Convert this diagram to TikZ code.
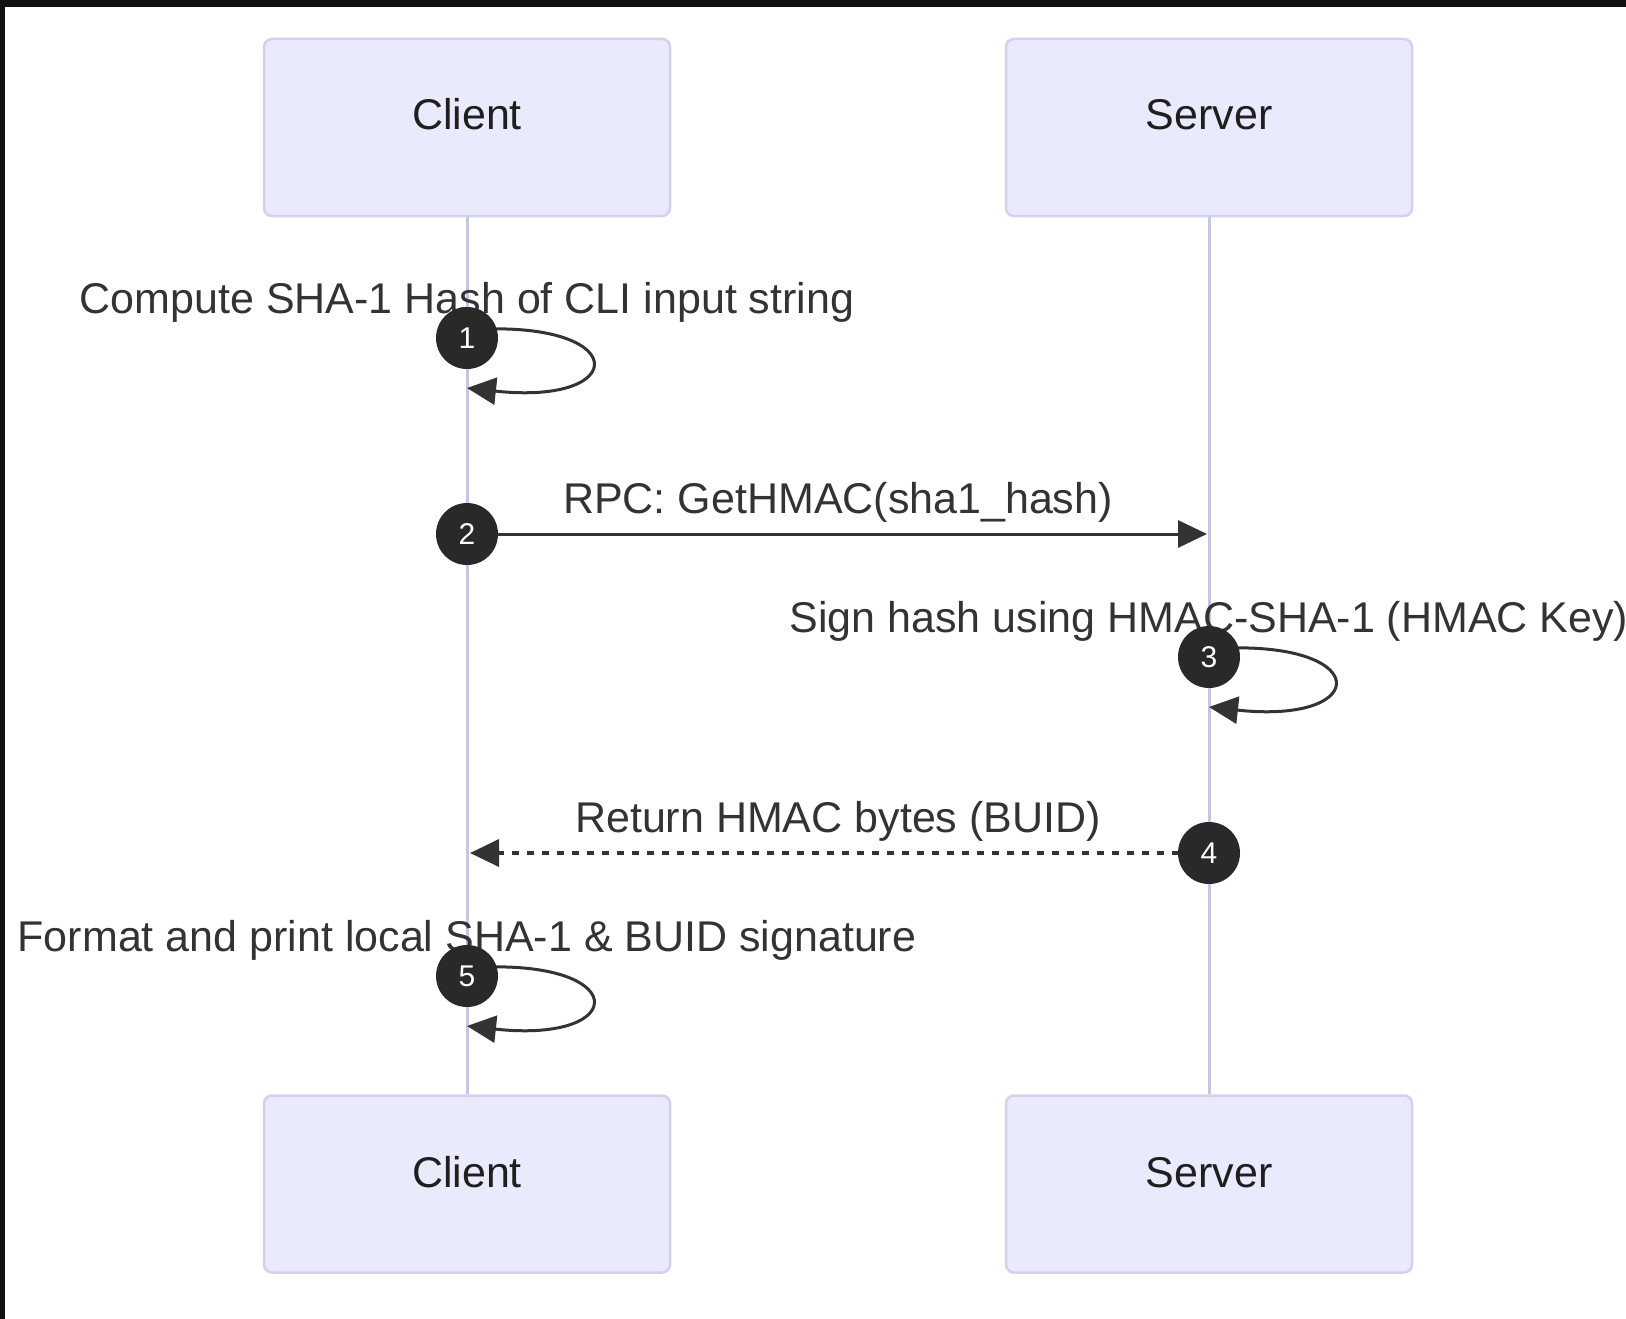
\documentclass[tikz,border=0pt]{standalone}
\usepackage{fontspec}
\setmainfont{Liberation Sans}
\usetikzlibrary{arrows.meta}

\definecolor{ink}{HTML}{333333}
\definecolor{actorfill}{HTML}{EAEAFD}
\definecolor{actorline}{HTML}{D3D1EF}
\definecolor{lifeline}{HTML}{C9C3E6}
\definecolor{frame}{HTML}{111111}

\begin{document}
\begin{tikzpicture}[x=1pt,y=-1pt,
  actor/.style={draw=actorline, line width=2.5pt, fill=actorfill,
    rounded corners=8pt, minimum width=406pt, minimum height=177pt, inner sep=0pt},
  actorlabel/.style={font=\fontsize{43pt}{50pt}\selectfont, text=black!88, anchor=base},
  msglabel/.style={font=\fontsize{43pt}{50pt}\selectfont, text=ink, anchor=base},
  life/.style={draw=lifeline, line width=3pt},
  msg/.style={draw=ink, line width=3pt, -{Triangle[length=29pt,width=27pt]}},
  reply/.style={msg, line width=3.6pt, dash pattern=on 7.5pt off 7.5pt},
  seqnum/.style={circle, fill=ink!80!black, minimum size=62pt, inner sep=0pt,
    text=white, font=\fontsize{30pt}{32pt}\selectfont},
  selfloop/.style={msg, to path={.. controls +(165,-12) and +(165,18) .. (\tikztotarget)}}
]
% canvas with the dark frame along the top and left edges
\fill[white] (0,0) rectangle (1626,1319);
\fill[frame] (0,0) rectangle (1626,7);
\fill[frame] (0,0) rectangle (5,1319);
\useasboundingbox (0,0) rectangle (1626,1319);

% participants
\node[actor] (cTop) at (467,127.5) {};
\node[actor] (sTop) at (1209,127.5) {};
\node[actor] (cBot) at (467,1184) {};
\node[actor] (sBot) at (1209,1184) {};
\node[actorlabel] (cTopT) at (467,130) {Client};
\node[actorlabel] (sTopT) at (1209,130) {Server};
\node[actorlabel] (cBotT) at (467,1187) {Client};
\node[actorlabel] (sBotT) at (1209,1187) {Server};

% lifelines
\draw[life] (cTop.south) -- (cBot.north);
\draw[life] (sTop.south) -- (sBot.north);

% message labels
\node[msglabel] (t1) at (467,313) {Compute SHA-1 Hash of CLI input string};
\node[msglabel] (t2) at (838,513) {RPC: GetHMAC(sha1\_hash)};
\node[msglabel] (t3) at (1209,632) {Sign hash using HMAC-SHA-1 (HMAC Key)};
\node[msglabel] (t4) at (838,832) {Return HMAC bytes (BUID)};
\node[msglabel] (t5) at (467,951) {Format and print local SHA-1 \& BUID signature};

% anchor points on the lifelines
\coordinate (a1) at (467,330);  \coordinate (b1) at (467,388);
\coordinate (a2) at (467,534);  \coordinate (b2) at (1207,534);
\coordinate (a3) at (1209,649); \coordinate (b3) at (1209,707);
\coordinate (a4) at (1209,853); \coordinate (b4) at (470,853);
\coordinate (a5) at (467,968);  \coordinate (b5) at (467,1026);

% messages
\draw[selfloop] (a1) to (b1);
\draw[msg] (a2) -- (b2);
\draw[selfloop] (a3) to (b3);
\draw[reply] (a4) -- (b4);
\draw[selfloop] (a5) to (b5);

% sequence numbers
\node[seqnum] (n1) at (467,338) {1};
\node[seqnum] (n2) at (a2) {2};
\node[seqnum] (n3) at (1209,657) {3};
\node[seqnum] (n4) at (a4) {4};
\node[seqnum] (n5) at (467,976) {5};
\end{tikzpicture}
\end{document}
